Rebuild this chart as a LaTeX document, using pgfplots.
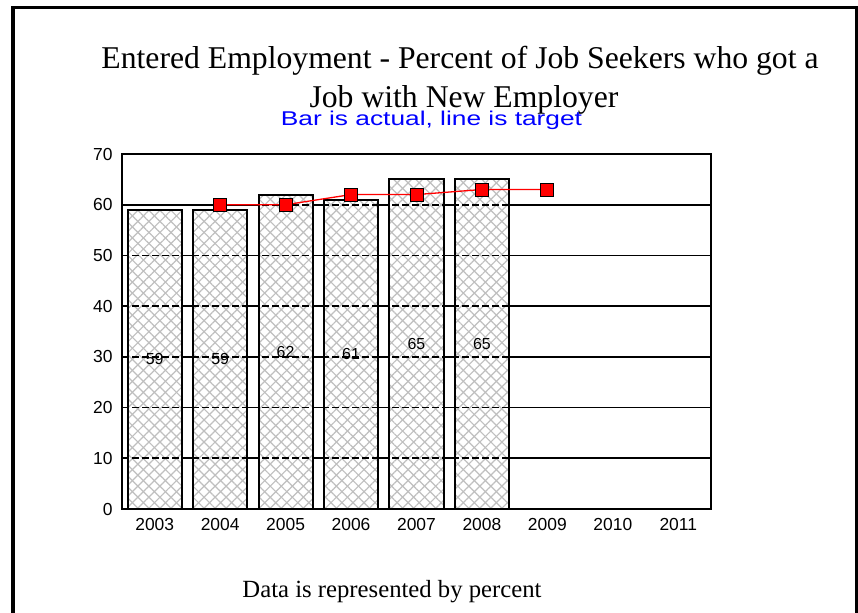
\documentclass[border=0pt]{standalone}
\usepackage{pgfplots}
\pgfplotsset{compat=1.18}
\usepackage{pgfplotstable}
\usetikzlibrary{patterns.meta}
\usepackage{fontspec}
\setmainfont{Liberation Serif}
\newfontfamily\sansf{Liberation Sans}

\pgfplotstableread{
x actual
0 59
1 59
2 62
3 61
4 65
5 65
}\actualdata

\pgfplotstableread{
x target
1 60
2 60
3 62
4 62
5 63
6 63
}\targetdata

\begin{document}
\begin{tikzpicture}
\useasboundingbox (0,0) rectangle (858bp,613bp);
\draw[line width=3.5bp, miter limit=10] (13bp,-5bp) -- (13bp,605.5bp) -- (857bp,605.5bp) -- (857bp,-5bp);

\begin{axis}[
  at={(122bp,104bp)}, anchor=south west,
  scale only axis, width=589bp, height=355bp,
  xmin=-0.5, xmax=8.5, ymin=0, ymax=70,
  xtick={0,1,2,3,4,5,6,7,8},
  xticklabels={2003,2004,2005,2006,2007,2008,2009,2010,2011},
  ytick={0,10,20,30,40,50,60,70},
  major tick length=0pt,
  ymajorgrids,
  major grid style={black, line width=1.7bp},
  axis line style={black, line width=2bp},
  /pgf/number format/assume math mode=true,
  tick label style={font=\fontsize{17.5}{17.5}\sansf},
  yticklabel style={xshift=-6bp},
  xticklabel style={yshift=-6bp},
]
\addplot[ybar, bar width=0.826, draw=black, line width=2bp,
  preaction={fill=white},
  preaction={pattern={Lines[angle=45,distance=7.8bp,line width=1.2bp]}, pattern color=black!25},
  preaction={pattern={Lines[angle=-45,distance=7.8bp,line width=1.2bp]}, pattern color=black!25}]
  table[x=x, y=actual] {\actualdata};

\draw[black, line width=1.7bp, dash pattern=on 7bp off 3bp] (axis cs:-0.5,10) -- (axis cs:8.5,10);
\draw[black, line width=1.7bp, dash pattern=on 7bp off 3bp] (axis cs:-0.5,20) -- (axis cs:8.5,20);
\draw[black, line width=1.7bp, dash pattern=on 7bp off 3bp] (axis cs:-0.5,30) -- (axis cs:8.5,30);
\draw[black, line width=1.7bp, dash pattern=on 7bp off 3bp] (axis cs:-0.5,40) -- (axis cs:8.5,40);
\draw[black, line width=1.7bp, dash pattern=on 7bp off 3bp] (axis cs:-0.5,50) -- (axis cs:8.5,50);
\draw[black, line width=1.7bp, dash pattern=on 7bp off 3bp] (axis cs:-0.5,60) -- (axis cs:8.5,60);

\addplot[only marks, mark=none, nodes near coords, point meta=explicit,
  nodes near coords style={font=\fontsize{16}{16}\sansf, anchor=center, inner sep=0pt}]
  table[x=x, y expr=\thisrow{actual}/2, meta=actual] {\actualdata};

\addplot[red, line width=1.3bp, mark=square*, mark size=6.5bp,
  mark options={fill=red, draw=black, line width=1bp, solid}]
  table[x=x, y=target] {\targetdata};
\end{axis}

\node[anchor=base, font=\fontsize{31.8}{31.8}\selectfont, inner sep=0pt] at (460bp,544bp) {Entered Employment - Percent of Job Seekers who got a};
\node[anchor=base, font=\fontsize{31.8}{31.8}\selectfont, inner sep=0pt] at (464bp,505bp) {Job with New Employer};
\node[anchor=base, text=blue, font=\fontsize{20}{20}\sansf, inner sep=0pt] at (431.5bp,487bp) {\scalebox{1.32}[1]{Bar is actual, line is target}};
\node[anchor=base, font=\fontsize{24.8}{24.8}\selectfont, inner sep=0pt] at (392bp,16bp) {Data is represented by percent};
\end{tikzpicture}
\end{document}
